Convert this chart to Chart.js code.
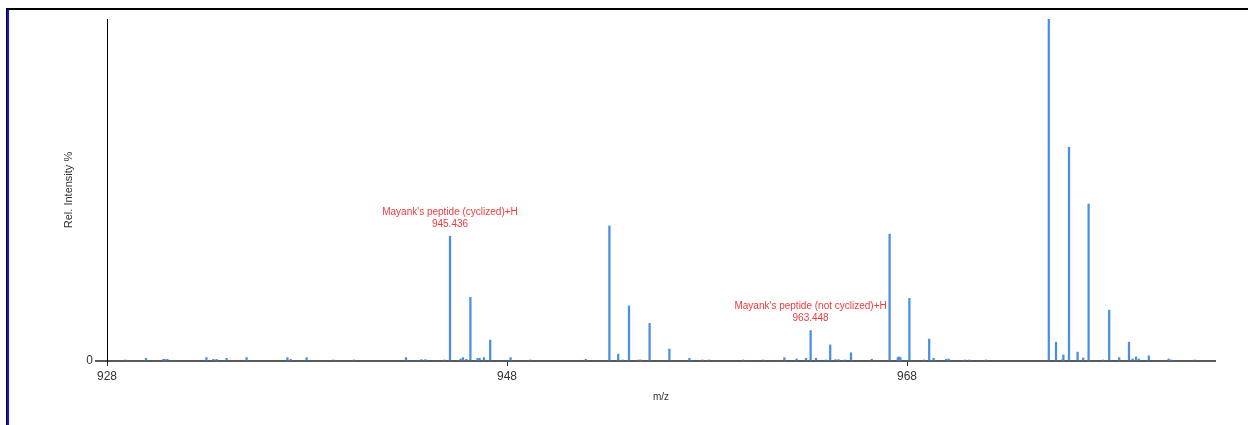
<!DOCTYPE html>
<html><head><meta charset="utf-8">
<script src="https://cdn.jsdelivr.net/npm/chart.js@4.4.1/dist/chart.umd.min.js"></script>
<style>html,body{margin:0;padding:0;background:#fff}#wrap{width:1248px;height:425px;position:relative}</style>
</head><body><div id="wrap"><canvas id="c" width="1248" height="425"></canvas></div>
<script>
// m/z of each peak
const peakMz = [
  928.92, 929.95, 930.82, 930.88, 931.02, 932.97, 933.32, 933.48, 933.98, 934.98,
  937.02, 937.18, 937.98, 939.32, 940.35, 942.95, 943.72, 943.92, 944.87, 945.15,
  945.68, 945.80, 945.97, 946.17, 946.53, 946.63, 946.85, 947.16, 948.18, 949.17,
  951.94, 953.12, 953.56, 953.79, 954.10, 954.57, 954.69, 955.13, 956.12, 957.12,
  957.77, 958.10, 959.81, 960.80, 961.87, 962.48, 962.95, 963.18, 963.45, 963.95,
  964.16, 964.43, 964.58, 964.89, 965.20, 966.24, 967.13, 967.54, 967.60, 967.67,
  968.12, 968.85, 969.11, 969.33, 969.96, 970.08, 970.90, 971.12, 971.94, 975.09,
  975.45, 975.77, 975.82, 976.10, 976.53, 976.81, 977.08, 977.80, 978.11, 978.61,
  979.10, 979.28, 979.45, 979.59, 980.09, 981.08, 981.20, 982.38
];
// relative intensity (%) of each peak
const peakIntensity = [
  0.3, 0.8, 0.5, 0.5, 0.5, 1.0, 0.5, 0.5, 0.8, 1.0,
  1.0, 0.5, 1.0, 0.3, 0.3, 1.0, 0.4, 0.4, 0.3, 36.5,
  0.6, 1.0, 0.5, 18.6, 0.8, 0.8, 1.0, 6.1, 1.0, 0.3,
  0.5, 39.5, 2.0, 0.3, 16.1, 0.3, 0.3, 11.0, 3.5, 0.8,
  0.3, 0.3, 0.3, 0.3, 1.0, 0.6, 0.8, 8.9, 0.8, 0.3,
  4.7, 0.4, 0.4, 0.3, 2.4, 0.5, 37.1, 1.0, 1.2, 1.0,
  18.3, 0.3, 6.4, 0.8, 0.5, 0.6, 0.3, 0.3, 0.3, 100,
  5.5, 0.4, 1.8, 62.5, 2.6, 0.9, 45.9, 0.3, 14.9, 1.0,
  5.5, 0.6, 1.2, 0.6, 1.5, 0.6, 0.3, 0.3
];
const xTicks = [928, 948, 968];
const yTicks = [0];
const xRange = [928, 983.4];
const yRange = [0, 100];
// annotations: peak they label, name and m/z text
const annotationPeakMz = [945.15, 963.18];
const annotationName = ["Mayank's peptide (cyclized)+H", "Mayank's peptide (not cyclized)+H"];
const annotationValue = ["945.436", "963.448"];

const FONT = "'Liberation Sans', Arial, sans-serif";

const framePlugin = {
  id: 'frame',
  beforeDraw(chart) {
    const ctx = chart.ctx;
    ctx.save();
    ctx.fillStyle = '#fff';
    ctx.fillRect(0, 0, chart.width, chart.height);
    ctx.fillStyle = '#000';
    ctx.fillRect(6, 8, chart.width - 6, 2);
    ctx.fillRect(6, 8, 1, chart.height - 8);
    ctx.fillStyle = '#1010e8';
    ctx.fillRect(7, 10, 2, chart.height - 10);
    ctx.restore();
  }
};

const annotationPlugin = {
  id: 'peakLabels',
  afterDatasetsDraw(chart) {
    const ctx = chart.ctx;
    const xs = chart.scales.x, ys = chart.scales.y;
    ctx.save();
    ctx.fillStyle = '#f03a3a';
    ctx.font = '10px ' + FONT;
    ctx.textAlign = 'center';
    ctx.textBaseline = 'middle';
    annotationPeakMz.forEach((mz, i) => {
      const idx = peakMz.indexOf(mz);
      const px = xs.getPixelForValue(mz);
      const py = ys.getPixelForValue(peakIntensity[idx]);
      ctx.fillText(annotationName[i], px, py - 24);
      ctx.fillText(annotationValue[i], px, py - 12);
    });
    ctx.restore();
  }
};

new Chart(document.getElementById('c'), {
  type: 'bar',
  data: {
    datasets: [{
      data: peakMz.map((m, i) => ({ x: m, y: peakIntensity[i] })),
      backgroundColor: '#4a8fe6',
      borderWidth: 0,
      barThickness: 1.6
    }]
  },
  options: {
    responsive: false,
    devicePixelRatio: 1,
    animation: false,
    layout: { padding: { left: 62, right: 33, top: 19, bottom: 14 } },
    plugins: { legend: { display: false }, tooltip: { enabled: false } },
    scales: {
      x: {
        type: 'linear',
        min: xRange[0], max: xRange[1],
        offset: false,
        afterBuildTicks: s => { s.ticks = xTicks.map(v => ({ value: v })); },
        afterFit: s => { s.height = 50; },
        ticks: { autoSkip: false, maxRotation: 0, padding: 3, color: '#333', font: { family: FONT, size: 12 }, callback: v => String(v) },
        grid: { drawOnChartArea: false, drawTicks: true, tickLength: 5, color: '#333', offset: false },
        border: { display: true, color: '#5a5a5a', width: 2 },
        title: { display: true, text: 'm/z', color: '#333', font: { family: FONT, size: 10 }, padding: { top: 0, bottom: 8 } }
      },
      y: {
        min: yRange[0], max: yRange[1],
        afterBuildTicks: s => { s.ticks = yTicks.map(v => ({ value: v })); },
        afterFit: s => { s.width = 45; },
        ticks: { padding: 2, color: '#333', font: { family: FONT, size: 12 } },
        grid: { drawOnChartArea: false, drawTicks: true, tickLength: 12, color: '#5a5a5a', lineWidth: 2 },
        border: { display: true, color: '#000', width: 1 },
        title: { display: true, text: 'Rel. Intensity %', color: '#333', font: { family: FONT, size: 11 }, padding: { top: 0, bottom: 0 } }
      }
    }
  },
  plugins: [framePlugin, annotationPlugin]
});
</script></body></html>
